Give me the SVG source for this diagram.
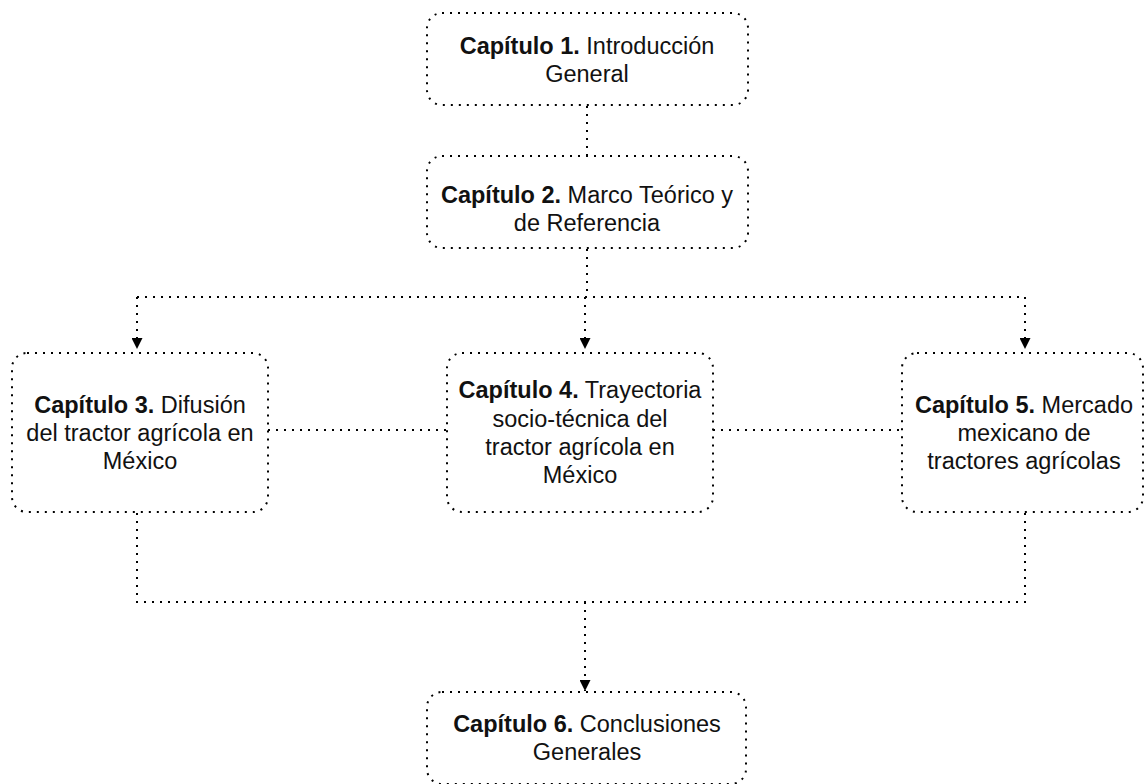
<svg xmlns="http://www.w3.org/2000/svg" width="1145" height="784" viewBox="0 0 1145 784">
  <style>
    .box { fill: #ffffff; stroke: #000000; stroke-width: 2; stroke-dasharray: 2 6; }
    .link { fill: none; stroke: #000000; stroke-width: 2; stroke-dasharray: 2 6; }
    text { font-family: "Liberation Sans", Arial, Helvetica, sans-serif; font-size: 23.5px; fill: #111111; text-anchor: middle; }
    .b { font-weight: bold; }
  </style>
  <defs>
    <marker id="arrow" viewBox="0 0 10 10" refX="10" refY="5" markerWidth="11" markerHeight="11" markerUnits="userSpaceOnUse" orient="auto">
      <path d="M0,0 L10,5 L0,10 Z" fill="#000000"/>
    </marker>
  </defs>

  <rect width="1145" height="784" fill="#ffffff"/>

  <g id="connectors">
    <path class="link" d="M587,106 L587,155"/>
    <path class="link" d="M587,249 L587,297"/>
    <path class="link" d="M137,297 L1025,297"/>
    <path class="link" d="M137,297 L137,349" marker-end="url(#arrow)"/>
    <path class="link" d="M585,297 L585,349" marker-end="url(#arrow)"/>
    <path class="link" d="M1025,297 L1025,349" marker-end="url(#arrow)"/>
    <path class="link" d="M268,430 L447,430"/>
    <path class="link" d="M713,430 L902,430"/>
    <path class="link" d="M137,513 L137,602 L1025,602 L1025,513"/>
    <path class="link" d="M585,602 L585,691" marker-end="url(#arrow)"/>
  </g>

  <g id="cap1">
    <rect class="box" x="427" y="13" width="321" height="92" rx="15" ry="15"/>
    <text x="587" y="54"><tspan class="b">Capítulo 1.</tspan> Introducción</text>
    <text x="587" y="82">General</text>
  </g>

  <g id="cap2">
    <rect class="box" x="427" y="156" width="321" height="92" rx="15" ry="15"/>
    <text x="587" y="203"><tspan class="b">Capítulo 2.</tspan> Marco Teórico y</text>
    <text x="587" y="231">de Referencia</text>
  </g>

  <g id="cap3">
    <rect class="box" x="12" y="353" width="256" height="159" rx="15" ry="15"/>
    <text x="140" y="413"><tspan class="b">Capítulo 3.</tspan> Difusión</text>
    <text x="140" y="441">del tractor agrícola en</text>
    <text x="140" y="469">México</text>
  </g>

  <g id="cap4">
    <rect class="box" x="447" y="353" width="266" height="159" rx="15" ry="15"/>
    <text x="580" y="398"><tspan class="b">Capítulo 4.</tspan> Trayectoria</text>
    <text x="580" y="427">socio-técnica del</text>
    <text x="580" y="455">tractor agrícola en</text>
    <text x="580" y="483">México</text>
  </g>

  <g id="cap5">
    <rect class="box" x="902" y="353" width="241" height="159" rx="15" ry="15"/>
    <text x="1024" y="413"><tspan class="b">Capítulo 5.</tspan> Mercado</text>
    <text x="1024" y="441">mexicano de</text>
    <text x="1024" y="469">tractores agrícolas</text>
  </g>

  <g id="cap6">
    <rect class="box" x="427" y="692" width="319" height="92" rx="15" ry="15"/>
    <text x="587" y="732"><tspan class="b">Capítulo 6.</tspan> Conclusiones</text>
    <text x="587" y="760">Generales</text>
  </g>
</svg>
